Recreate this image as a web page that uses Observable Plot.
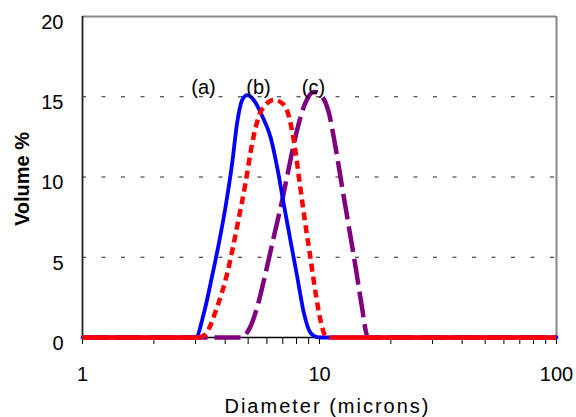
<!DOCTYPE html>
<html><head><meta charset="utf-8">
<script src="https://cdn.jsdelivr.net/npm/d3@7"></script>
<script src="https://cdn.jsdelivr.net/npm/@observablehq/plot@0.6"></script>
<style>
body{margin:0;background:#fff}
svg{font-family:"Liberation Sans",Arial,sans-serif}
</style>
</head><body><div id="chart"></div>
<script>
// (a) blue solid
const aX = [1, 3.0, 3.25, 3.52, 3.76, 4.01, 4.28, 4.49, 4.72, 4.95, 5.28, 5.73, 6.21, 6.63, 7.06, 7.54, 8.05, 8.6, 9.15, 9.77, 10.4, 100];
const aY = [0, 0, 1.5, 3.8, 5.85, 8.1, 10.85, 13.35, 14.8, 15.1, 14.8, 13.8, 12.5, 10.6, 8.35, 6.05, 3.8, 1.5, 0.3, 0.03, 0, 0];
// (b) red dotted (curve part)
const bX = [3.1, 3.3, 3.7, 4.08, 4.49, 4.87, 5.2, 5.55, 5.92, 6.42, 6.96, 7.42, 7.9, 8.29, 8.71, 9.15, 9.6, 10.1, 10.6, 11.0, 11.6];
const bY = [0, 0.2, 1.9, 4.0, 6.9, 9.6, 12.1, 13.8, 14.5, 14.8, 14.6, 13.8, 11.7, 9.4, 7.1, 5.0, 2.9, 1.06, 0.1, 0, 0];
// (c) purple long dash
const cX = [1, 4.64, 5.1, 5.46, 5.92, 6.42, 6.96, 7.54, 8.05, 8.71, 9.45, 10.27, 10.95, 11.67, 12.45, 13.3, 14.2, 15.1, 15.9, 16.3, 100];
const cY = [0, 0, 0.65, 1.9, 4.0, 6.3, 8.55, 11.05, 12.95, 14.6, 15.3, 15.0, 14.0, 11.9, 9.4, 6.9, 4.4, 1.9, 0.1, 0, 0];

const xDomain = [1, 100];
const yDomain = [0, 20];
const yTicks = [0, 5, 10, 15, 20];
const gridTicks = [5, 10, 15];
const xMajor = [1, 10, 100];
const xAllTicks = [1,2,3,4,5,6,7,8,9,10,20,30,40,50,60,70,80,90,100];
const labels = ["(a)", "(b)", "(c)"];
const labelX = [3.24, 5.53, 9.43];
const labelY = [15.6, 15.6, 15.6];

const toRows = (xs, ys) => xs.map((x, i) => ({x, y: ys[i]}));
const A = toRows(aX, aY), B = toRows(bX, bY), C = toRows(cX, cY);
const redBase = [
  {x1: xDomain[0], x2: bX[0]},
  {x1: bX[bX.length - 1], x2: xDomain[1]}
];
const lab = labels.map((t, i) => ({t, x: labelX[i], y: labelY[i]}));

const chart = Plot.plot({
  width: 576, height: 417,
  marginLeft: 82, marginRight: 20, marginTop: 16, marginBottom: 80,
  x: {type: "log", domain: xDomain},
  y: {domain: yDomain},
  marks: [
    Plot.ruleY(gridTicks, {stroke: "#222", strokeWidth: 1, strokeDasharray: "4,15.5"}),
    Plot.axisX({ticks: xAllTicks, tickSize: 7, tickFormat: () => "", label: null, stroke: "#000"}),
    Plot.axisX({ticks: xMajor, tickSize: 0, tickPadding: 29, fontSize: 20, label: null, tickFormat: d3.format("d"), fill: "#000"}),
    Plot.axisY({ticks: yTicks, tickSize: 0, tickPadding: 19, fontSize: 20, dy: 6, label: null, fill: "#000"}),
    Plot.ruleY([yDomain[1]], {stroke: "#888", strokeWidth: 2}),
    Plot.ruleX([xDomain[1]], {stroke: "#888", strokeWidth: 2}),
    Plot.ruleX([xDomain[0]], {stroke: "#222", strokeWidth: 1.8}),
    Plot.ruleY([0], {stroke: "#000", strokeWidth: 1.5}),
    Plot.line(C, {x: "x", y: "y", stroke: "#800080", strokeWidth: 4.5, strokeDasharray: "26,7", strokeLinecap: "butt", curve: "monotone-x"}),
    Plot.line(A, {x: "x", y: "y", stroke: "#0000ff", strokeWidth: 3.8, curve: "monotone-x"}),
    Plot.line(B, {x: "x", y: "y", stroke: "#ff0000", strokeWidth: 4.5, strokeDasharray: "8,5", strokeLinecap: "butt", curve: "monotone-x"}),
    Plot.ruleY(redBase, {x1: "x1", x2: "x2", y: 0, stroke: "#ff0000", strokeWidth: 4.5}),
    Plot.text(lab, {x: "x", y: "y", text: "t", fontSize: 20, fill: "#000"}),
    Plot.text(["Volume %"], {frameAnchor: "left", dx: -60, dy: 2, rotate: -90, fontSize: 20, fontWeight: "bold", fill: "#000", textAnchor: "middle"}),
    Plot.text(["Diameter (microns)"], {frameAnchor: "bottom", dy: 75, dx: 8, fontSize: 20, fill: "#000"})
  ]
});
d3.select(chart).selectAll("text").filter(function(){ return this.textContent === "Diameter (microns)"; })
  .attr("letter-spacing", "2px");
document.getElementById("chart").appendChild(chart);
</script>
</body></html>
